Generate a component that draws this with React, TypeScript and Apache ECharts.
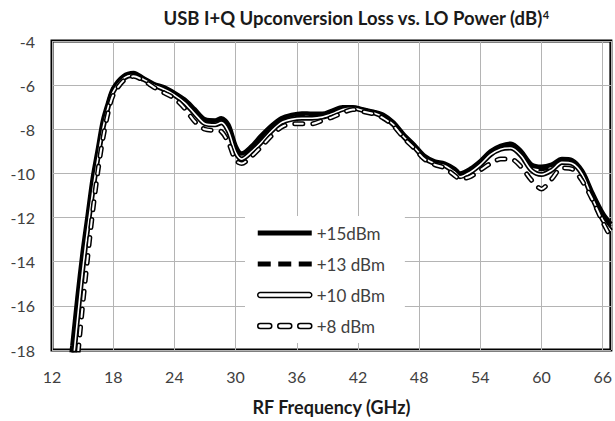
import React, { useEffect, useRef } from 'react';
import * as echarts from 'echarts';

const chartTitle = 'USB I+Q Upconversion Loss vs. LO Power (dB)';
const titleSup = '4';
const xAxisTitle = 'RF Frequency (GHz)';
const seriesNames = ['+15dBm', '+13 dBm', '+10 dBm', '+8 dBm'];

const freqGHz = [13.5, 14, 14.5, 15, 15.5, 16, 16.5, 17, 17.5, 18, 19, 20, 21, 22, 23, 24, 25, 26, 27, 28, 28.6, 29.3, 30, 30.6, 31.5, 32.5, 33.5, 34.5, 35.5, 36.5, 37.5, 38.5, 39.5, 40.5, 41.5, 42.5, 43.5, 44.5, 45.5, 46.5, 47.5, 48.5, 49.5, 50.5, 51.5, 52, 53, 54, 55, 56, 57, 58, 59, 60, 61, 62, 63, 64, 65, 66, 66.8];

const lossP15 = [-19.8, -17.8, -15.6, -13.6, -11.9, -10.2, -8.9, -7.6, -6.8, -6.15, -5.6, -5.45, -5.7, -5.95, -6.1, -6.35, -6.65, -7.1, -7.55, -7.6, -7.5, -7.8, -8.75, -9.1, -8.8, -8.3, -7.85, -7.5, -7.35, -7.28, -7.3, -7.3, -7.15, -7.0, -7.0, -7.1, -7.2, -7.35, -7.7, -8.25, -8.7, -9.2, -9.45, -9.55, -9.8, -10.0, -9.8, -9.45, -9.0, -8.75, -8.65, -9.0, -9.6, -9.7, -9.6, -9.35, -9.4, -9.9, -10.9, -11.8, -12.3];

const lossP13 = [-20.5, -18.4, -16.1, -14.0, -12.2, -10.5, -9.1, -7.8, -6.9, -6.2, -5.65, -5.5, -5.72, -5.98, -6.15, -6.4, -6.7, -7.15, -7.6, -7.65, -7.55, -7.9, -8.85, -9.2, -8.9, -8.4, -7.95, -7.6, -7.45, -7.38, -7.38, -7.38, -7.2, -7.05, -7.03, -7.12, -7.22, -7.4, -7.75, -8.3, -8.75, -9.25, -9.5, -9.6, -9.85, -10.05, -9.85, -9.5, -9.05, -8.8, -8.7, -9.05, -9.7, -9.8, -9.7, -9.4, -9.45, -9.95, -11.0, -11.9, -12.4];

const lossP10 = [-21, -18.9, -16.6, -14.4, -12.5, -10.8, -9.3, -7.95, -7.0, -6.3, -5.7, -5.55, -5.75, -6.0, -6.2, -6.45, -6.8, -7.3, -7.75, -7.8, -7.7, -8.1, -9.05, -9.35, -9.05, -8.6, -8.1, -7.7, -7.55, -7.5, -7.5, -7.45, -7.3, -7.1, -7.05, -7.15, -7.25, -7.45, -7.8, -8.35, -8.8, -9.3, -9.55, -9.65, -9.95, -10.15, -9.95, -9.6, -9.15, -8.9, -8.85, -9.2, -9.85, -10.05, -9.85, -9.5, -9.55, -10.05, -11.15, -12.1, -12.6];

const lossP8 = [-23, -20.6, -18.4, -16.0, -13.8, -11.7, -9.9, -8.4, -7.25, -6.45, -5.8, -5.6, -5.8, -6.1, -6.35, -6.6, -7.05, -7.65, -8.0, -8.05, -8.1, -8.6, -9.4, -9.55, -9.25, -8.8, -8.3, -7.9, -7.75, -7.75, -7.75, -7.6, -7.45, -7.25, -7.1, -7.2, -7.3, -7.5, -7.85, -8.4, -8.85, -9.35, -9.6, -9.75, -10.1, -10.25, -10.15, -9.85, -9.55, -9.35, -9.35, -9.7, -10.3, -10.7, -10.25, -9.75, -9.8, -10.35, -11.2, -12.2, -12.9];

const xMin = 12;
const xMax = 66.8;
const xStep = 6;
const yMin = -18;
const yMax = -4;
const yStep = 2;

const FONT = 'Lato, "Open Sans", sans-serif';

const pairs = (vals: number[]) => freqGHz.map((f, i) => [f, vals[i]]);

export default function App() {
  const ref = useRef<HTMLDivElement>(null);
  useEffect(() => {
    if (!ref.current) return;
    const chart = echarts.init(ref.current, null, { renderer: 'svg' });
    const base = { type: 'line', showSymbol: false, symbol: 'none', smooth: 0.3, clip: true, silent: true };
    chart.setOption({
      animation: false,
      backgroundColor: '#fff',
      textStyle: { fontFamily: FONT },
      grid: { left: 52, right: 4, top: 41, bottom: 71, show: true, borderColor: '#000', borderWidth: 3, backgroundColor: 'transparent' },
      graphic: [
        {
          type: 'text', x: 356, y: 18, z: 10,
          style: {
            text: chartTitle + '{sup|' + titleSup + '}',
            align: 'center', verticalAlign: 'middle',
            fontFamily: FONT, fontWeight: 'bold', fontSize: 18.5, fill: '#1a1a1a',
            rich: { sup: { fontSize: 11, fontWeight: 'bold', verticalAlign: 'top', fontFamily: FONT, fill: '#1a1a1a' } },
          },
        },
      ],
      legend: {
        orient: 'vertical', left: 245, top: 216,
        padding: [8, 20, 8, 12], itemGap: 13,
        itemWidth: 54, itemHeight: 5,
        backgroundColor: '#fff', borderWidth: 0,
        textStyle: { fontFamily: FONT, fontSize: 17, color: '#404040', lineHeight: 18 },
        selectedMode: false,
        data: [
          { name: seriesNames[0], icon: 'path://M0,0H54V5H0Z', itemStyle: { color: '#000', borderWidth: 0 } },
          { name: seriesNames[1], icon: 'path://M0,0H13V5H0Z M20.5,0H33.5V5H20.5Z M41,0H54V5H41Z', itemStyle: { color: '#000', borderWidth: 0 } },
          { name: seriesNames[2], icon: 'path://M2,0H52A2.5,2.5,0,0,1,52,5H2A2.5,2.5,0,0,1,2,0Z', itemStyle: { color: '#fff', borderColor: '#000', borderWidth: 1.5 } },
          { name: seriesNames[3], icon: 'path://M2.5,0H11.5A2.5,2.5,0,0,1,11.5,5H2.5A2.5,2.5,0,0,1,2.5,0Z M22.5,0H31.5A2.5,2.5,0,0,1,31.5,5H22.5A2.5,2.5,0,0,1,22.5,0Z M42.5,0H51.5A2.5,2.5,0,0,1,51.5,5H42.5A2.5,2.5,0,0,1,42.5,0Z', itemStyle: { color: '#fff', borderColor: '#000', borderWidth: 1.5 } },
        ],
      },
      xAxis: {
        type: 'value', min: xMin, max: xMax, interval: xStep,
        name: xAxisTitle, nameLocation: 'middle', nameGap: 48,
        nameTextStyle: { fontFamily: FONT, fontWeight: 'bold', fontSize: 18, color: '#1a1a1a' },
        axisLine: { show: false }, axisTick: { show: false },
        axisLabel: { fontFamily: FONT, fontSize: 16, color: '#404040', margin: 18, showMaxLabel: false },
        splitLine: { show: true, lineStyle: { color: '#b4b4b4', width: 1 } },
      },
      yAxis: {
        type: 'value', min: yMin, max: yMax, interval: yStep,
        axisLine: { show: false }, axisTick: { show: false },
        axisLabel: { fontFamily: FONT, fontSize: 16, color: '#404040', margin: 17 },
        splitLine: { show: true, lineStyle: { color: '#b4b4b4', width: 1 } },
      },
      series: [
        { ...base, name: seriesNames[0], data: pairs(lossP15), color: '#000', lineStyle: { color: '#000', width: 4.5 } },
        { ...base, name: seriesNames[1], data: pairs(lossP13), color: '#000', lineStyle: { color: '#000', width: 4.5, type: [10, 6] } },
        { ...base, name: seriesNames[2], data: pairs(lossP10), color: '#000', lineStyle: { color: '#000', width: 5 } },
        { ...base, name: seriesNames[2] + ' inner', data: pairs(lossP10), color: '#fff', lineStyle: { color: '#fff', width: 1.6 } },
        { ...base, name: seriesNames[3], data: pairs(lossP8), color: '#000', lineStyle: { color: '#000', width: 5, type: [8, 10], cap: 'round' } },
        { ...base, name: seriesNames[3] + ' inner', data: pairs(lossP8), color: '#fff', lineStyle: { color: '#fff', width: 2, type: [8, 10], cap: 'round' } },
      ],
    });
    return () => chart.dispose();
  }, []);
  return <div ref={ref} style={{ position: 'fixed', left: 0, top: 0, width: 615, height: 421 }} />;
}
